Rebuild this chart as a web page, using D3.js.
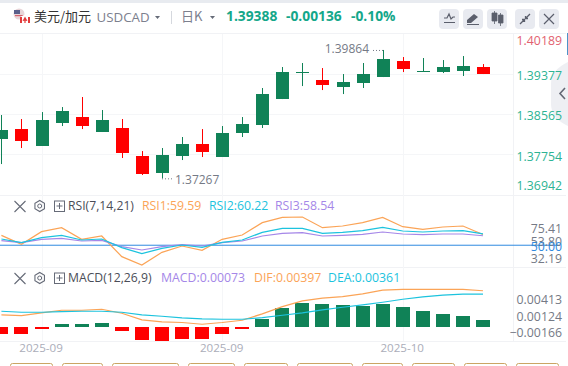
<!DOCTYPE html>
<html>
<head>
<meta charset="utf-8">
<script src="https://cdnjs.cloudflare.com/ajax/libs/d3/7.8.5/d3.min.js"></script>
<style>
html, body { margin: 0; padding: 0; background: #fff; overflow: hidden; }
text { font-family: "Open Sans", "Noto Sans CJK SC", sans-serif; }
</style>
</head>
<body>
<div id="chart"></div>
<script>
// candle values
var opens = [1.38062, 1.38264, 1.37921, 1.38386, 1.38507, 1.38204, 1.38285, 1.37718, 1.37374, 1.37718, 1.37961, 1.37698, 1.38183, 1.38345, 1.38871, 1.39404, 1.39256, 1.39114, 1.39195, 1.39316, 1.39640, 1.39424, 1.39417, 1.39438, 1.39524];
var highs = [1.38548, 1.38467, 1.38608, 1.38709, 1.38912, 1.38649, 1.38467, 1.37819, 1.37880, 1.38103, 1.38264, 1.38325, 1.38507, 1.39094, 1.39519, 1.39600, 1.39498, 1.39377, 1.39600, 1.39864, 1.39721, 1.39701, 1.39660, 1.39741, 1.39579];
var lows = [1.37556, 1.37880, 1.37921, 1.38325, 1.38264, 1.38204, 1.37678, 1.37334, 1.37267, 1.37637, 1.37698, 1.37698, 1.38103, 1.38285, 1.38871, 1.39134, 1.39053, 1.38972, 1.39094, 1.39316, 1.39417, 1.39424, 1.39397, 1.39337, 1.39377];
var closes = [1.38244, 1.38022, 1.38446, 1.38629, 1.38325, 1.38446, 1.37779, 1.37354, 1.37738, 1.37961, 1.37799, 1.38183, 1.38366, 1.38972, 1.39417, 1.39417, 1.39154, 1.39215, 1.39377, 1.39680, 1.39478, 1.39438, 1.39519, 1.39539, 1.39388];

var rsi1 = [58.9, 50.8, 62.2, 65.8, 55.3, 58.3, 39.7, 32.19, 43.6, 49.3, 45.4, 55.3, 59.2, 70.3, 75.1, 75.41, 65.8, 67.3, 70.3, 75.1, 66.7, 64.3, 66.4, 67.3, 59.59];
var rsi2 = [55.6, 52.3, 56.8, 58.9, 54.7, 55.6, 47.8, 42.4, 47.2, 50.2, 48.1, 52.6, 54.7, 61.6, 65.2, 65.2, 60.7, 61.6, 63.1, 66.1, 62.8, 61.9, 62.8, 63.1, 60.22];
var rsi3 = [54.1, 52.3, 55.3, 56.2, 53.8, 54.4, 48.7, 45.7, 48.7, 50.5, 49.3, 52.3, 53.8, 58.3, 60.7, 61.3, 58.3, 58.9, 59.8, 61.9, 60.1, 59.5, 60.1, 60.1, 58.54];

var macdHist = [-0.00077, -0.00077, -0.00022, 0.00033, 0.00033, 0.00044, -0.00044, -0.00146, -0.00154, -0.00132, -0.00132, -0.00077, -0.00022, 0.00088, 0.00209, 0.00264, 0.00253, 0.00242, 0.00231, 0.00253, 0.0022, 0.00176, 0.00143, 0.00121, 0.00073];
var dif = [0.00132, 0.00124, 0.00154, 0.00183, 0.00183, 0.00194, 0.0015, 0.00077, 0.00055, 0.00048, 0.00029, 0.00048, 0.00073, 0.00143, 0.00223, 0.00285, 0.00315, 0.00333, 0.00362, 0.00403, 0.00413, 0.00413, 0.00413, 0.00413, 0.00397];
var dea = [0.00172, 0.00161, 0.00161, 0.00168, 0.00172, 0.00172, 0.00161, 0.00132, 0.00117, 0.00099, 0.00088, 0.00084, 0.00084, 0.00102, 0.00128, 0.00154, 0.00187, 0.00216, 0.00242, 0.00271, 0.00304, 0.00329, 0.00348, 0.00359, 0.00361];

var priceTicks = [1.40189, 1.39377, 1.38565, 1.37754, 1.36942];
var rsiTicks = [75.41, 53.80, 50.00, 32.19];
var macdTicks = [0.00413, 0.00124, -0.00166];
var dateIndex = [2, 11, 20];
var dateLabels = ["2025-09", "2025-09", "2025-10"];

var green = "#108257", red = "#ff0000", orange = "#fba457", cyan = "#1cc3de", purple = "#a587e8";
var teal = "#2db393", grey = "#757a86", gridColor = "#f5f6f8";

var width = 568, height = 366;
var svg = d3.select("#chart").append("svg")
    .attr("width", width)
    .attr("height", height)
    .style("display", "block");

var x = d3.scalePoint().domain(d3.range(opens.length)).range([1.4, 483]);
var y = d3.scaleLinear().domain([1.36942, 1.40189]).range([194.4, 33.9]);
var yRsi = d3.scaleLinear().domain([32.19, 75.41]).range([265, 217]);
var yMacd = d3.scaleLinear().domain([-0.00166, 0.00413]).range([342, 289.3]);

// page strip on top and panel separators
svg.append("rect").attr("width", width).attr("height", 3).attr("fill", "#e8ebf0");
svg.append("rect").attr("x", 567).attr("y", 33).attr("width", 1).attr("height", 22).attr("fill", "#4d93c9");

svg.selectAll(".sep").data([33.5, 195.5, 267.5, 341.5]).enter().append("line")
    .attr("x1", 0).attr("x2", 566).attr("y1", function (d) { return d; }).attr("y2", function (d) { return d; })
    .attr("stroke", "#f1f2f5");
svg.append("line").attr("x1", 513.5).attr("x2", 513.5).attr("y1", 33).attr("y2", 341).attr("stroke", "#f1f2f5");

svg.selectAll(".gridv").data(dateIndex).enter().append("line")
    .attr("x1", function (d) { return Math.round(x(d)) + 0.5; })
    .attr("x2", function (d) { return Math.round(x(d)) + 0.5; })
    .attr("y1", 34).attr("y2", 341)
    .attr("stroke", gridColor);
svg.selectAll(".gridh").data(priceTicks.slice(1, 4)).enter().append("line")
    .attr("x1", 0).attr("x2", 513)
    .attr("y1", function (d) { return Math.round(y(d)) + 0.5; })
    .attr("y2", function (d) { return Math.round(y(d)) + 0.5; })
    .attr("stroke", gridColor);

// collapse handle on the right
svg.append("path")
    .attr("d", "M568,62 Q551,70 551,84 L551,104 Q551,118 568,126 Z")
    .attr("fill", "#eeeff3");
svg.append("path")
    .attr("d", "M565,88 L560,93.5 L565,99")
    .attr("fill", "none").attr("stroke", "#636874").attr("stroke-width", 1.6);

// candles
var candles = svg.append("g").selectAll("g").data(opens).enter().append("g");
candles.append("line")
    .attr("x1", function (d, i) { return Math.round(x(i)) + 0.5; })
    .attr("x2", function (d, i) { return Math.round(x(i)) + 0.5; })
    .attr("y1", function (d, i) { return y(highs[i]); })
    .attr("y2", function (d, i) { return y(lows[i]); })
    .attr("stroke", function (d, i) { return closes[i] >= d ? green : red; });
candles.append("rect")
    .attr("x", function (d, i) { return Math.round(x(i)) - 6; })
    .attr("width", 13)
    .attr("y", function (d, i) { return Math.round(y(Math.max(d, closes[i]))); })
    .attr("height", function (d, i) { return Math.max(1, Math.round(Math.abs(y(d) - y(closes[i])))); })
    .attr("fill", function (d, i) { return closes[i] >= d ? green : red; });

// high and low notes
function note(i, value, side) {
    var px = Math.round(x(i)), py = y(value);
    var t = svg.append("text").attr("y", py + (side > 0 ? 6 : 3.5))
        .attr("font-size", 12).attr("fill", grey).text(value.toFixed(5));
    if (side > 0) {
        t.attr("x", px + 13);
    } else {
        t.attr("x", px - 14).attr("text-anchor", "end");
    }
    svg.append("line")
        .attr("x1", px).attr("x2", px + side * 10)
        .attr("y1", py + 0.5).attr("y2", py + 0.5)
        .attr("stroke", grey).attr("stroke-dasharray", "1,2");
}
note(8, d3.min(lows), 1);
note(19, d3.max(highs), -1);

// RSI
svg.append("line")
    .attr("x1", 0).attr("x2", 560)
    .attr("y1", yRsi(50)).attr("y2", yRsi(50))
    .attr("stroke", "#2f8ae0");

function drawLine(values, scale, color) {
    var line = d3.line()
        .x(function (d, i) { return x(i); })
        .y(function (d) { return scale(d); });
    svg.append("path")
        .attr("d", line(values))
        .attr("fill", "none")
        .attr("stroke", color)
        .attr("stroke-width", 1.2);
}
drawLine(rsi1, yRsi, orange);
drawLine(rsi3, yRsi, purple);
drawLine(rsi2, yRsi, cyan);

// MACD
svg.append("g").selectAll("rect").data(macdHist).enter().append("rect")
    .attr("x", function (d, i) { return Math.round(x(i)) - 7; })
    .attr("width", 14)
    .attr("y", function (d) { return Math.round(Math.min(yMacd(d), yMacd(0))); })
    .attr("height", function (d) { return Math.round(Math.abs(yMacd(d) - yMacd(0))); })
    .attr("fill", function (d) { return d >= 0 ? green : red; });
drawLine(dif, yMacd, orange);
drawLine(dea, yMacd, cyan);

// axes: labels stay inside their panel
function valueAxis(scale, ticks, fmt, top, bottom, shift, colorOf) {
    var g = svg.append("g")
        .attr("transform", "translate(562,0)")
        .call(d3.axisRight(scale).tickValues(ticks).tickSize(0).tickFormat(fmt));
    g.select(".domain").remove();
    g.selectAll(".tick")
        .attr("transform", function (d) {
            return "translate(0," + Math.max(top, Math.min(bottom, scale(d) + shift)) + ")";
        });
    g.selectAll("text")
        .attr("x", 0).attr("dy", "0.35em")
        .attr("text-anchor", "end")
        .style("font-size", "12.3px")
        .style("font-family", '"Open Sans", sans-serif')
        .attr("fill", colorOf);
}
valueAxis(y, priceTicks, d3.format(".5f"), 41, 185.5, 2, function (d) { return d > 1.4 ? "#e2616f" : teal; });
valueAxis(yRsi, rsiTicks, d3.format(".2f"), 228.6, 258.7, 1, function (d) { return d === 50 ? "#2f8ae0" : grey; });
valueAxis(yMacd, macdTicks, d3.format(".5f"), 300, 332.7, 1, function () { return grey; });

var xAxis = svg.append("g")
    .attr("transform", "translate(-1,342)")
    .call(d3.axisBottom(x).tickValues(dateIndex).tickSize(0).tickFormat(function (d, i) { return dateLabels[i]; }));
xAxis.select(".domain").remove();
xAxis.selectAll("text")
    .attr("y", 2).attr("dy", "0.71em")
    .style("font-size", "11.6px")
    .style("font-family", '"Open Sans", sans-serif')
    .attr("fill", "#abadb9");

// header
function label(px, py, txt, size, color, weight) {
    return svg.append("text").attr("x", px).attr("y", py)
        .attr("font-size", size).attr("fill", color)
        .attr("font-weight", weight || "normal").text(txt);
}
var flag = svg.append("g");
flag.append("circle").attr("cx", 19).attr("cy", 14).attr("r", 5.5).attr("fill", "#e8d5d8");
flag.append("rect").attr("x", 14).attr("y", 10).attr("width", 6).attr("height", 4).attr("fill", "#5a5f8a");
flag.append("rect").attr("x", 15).attr("y", 15).attr("width", 9).attr("height", 1.2).attr("fill", "#d4606c");
flag.append("circle").attr("cx", 25).attr("cy", 20).attr("r", 5).attr("fill", "#fff");
flag.append("rect").attr("x", 21).attr("y", 16.5).attr("width", 9).attr("height", 7).attr("fill", "#fff");
flag.append("rect").attr("x", 20).attr("y", 17).attr("width", 2).attr("height", 6).attr("fill", "#e23b3b");
flag.append("rect").attr("x", 28).attr("y", 17).attr("width", 2).attr("height", 6).attr("fill", "#e23b3b");
flag.append("path").attr("d", "M25,16.5 L27.5,21 L25.6,20.8 L25.6,23 L24.4,23 L24.4,20.8 L22.5,21 Z").attr("fill", "#e23b3b");

label(34, 21, "美元/加元", 13, "#333333").style("font-family", '"Noto Sans CJK SC", sans-serif');
label(96.5, 22, "USDCAD", 13.3, "#7c808e");
svg.append("path").attr("d", "M155,16 L160,16 L157.5,19 Z").attr("fill", "#666b78");
svg.append("line").attr("x1", 171.5).attr("x2", 171.5).attr("y1", 11).attr("y2", 24).attr("stroke", "#d5d8de");
label(181, 21, "日K", 13, "#7c808e").style("font-family", '"Noto Sans CJK SC", sans-serif');
svg.append("path").attr("d", "M210,16 L215,16 L212.5,19 Z").attr("fill", "#666b78");
label(226, 21, "1.39388", 13.8, "#14a78a", "bold");
label(286, 21, "-0.00136", 13.8, "#14a78a", "bold");
label(351, 21, "-0.10%", 13.8, "#14a78a", "bold");

// toolbar buttons
var buttons = [439, 463, 487, 515, 539];
svg.selectAll(".btn").data(buttons).enter().append("rect")
    .attr("x", function (d) { return d; })
    .attr("y", 9).attr("width", 20).attr("height", 20).attr("rx", 4)
    .attr("fill", "#e8eaf0");
var ink = "#5b5f6c";
svg.append("path").attr("d", "M444,18 L447,18 L449,14 L451,19 L453,17 L455,17 M444,22.5 L455,22.5")
    .attr("fill", "none").attr("stroke", ink).attr("stroke-width", 1.2);
svg.append("path").attr("d", "M467,23 L467,20 L474,14 L478,17 L471,23 Z M467,24 L479,24 L479,25 L467,25 Z").attr("fill", ink);
svg.append("path").attr("d", "M492,13 L497,13 L497,21 L492,21 Z M498.5,15 L503,15 L503,23 L498.5,23 Z M494.5,11 V24 M500.5,13 V26")
    .attr("fill", ink).attr("stroke", ink).attr("stroke-width", 0.8);
svg.append("path").attr("d", "M520,24 L524,20 M526,18 L530,14 M522,19.5 L524.5,19.5 L524.5,22 M525.5,16 L525.5,18.5 L528,18.5")
    .attr("fill", "none").attr("stroke", ink).attr("stroke-width", 1.3);
svg.append("path").attr("d", "M544,14 L554,24 M554,14 L544,24")
    .attr("fill", "none").attr("stroke", ink).attr("stroke-width", 1.2);

// indicator headers
function paneHead(py) {
    svg.append("path").attr("d", "M14.5," + (py - 5) + " L25.5," + (py + 6) + " M25.5," + (py - 5) + " L14.5," + (py + 6))
        .attr("stroke", "#666b78").attr("stroke-width", 1.1);
    var r = 5.5, hex = d3.range(6).map(function (k) {
        var a = Math.PI / 3 * k + Math.PI / 6;
        return [39.7 + r * Math.cos(a), py + r * Math.sin(a)];
    });
    svg.append("path").attr("d", "M" + hex.join("L") + "Z")
        .attr("fill", "none").attr("stroke", "#666b78").attr("stroke-width", 1.1);
    svg.append("circle").attr("cx", 39.7).attr("cy", py).attr("r", 2)
        .attr("fill", "none").attr("stroke", "#666b78");
    svg.append("rect").attr("x", 54.5).attr("y", py - 5).attr("width", 10).attr("height", 10.5)
        .attr("fill", "none").attr("stroke", "#666b78");
    svg.append("path").attr("d", "M56.5," + py + " H62.5 M59.5," + (py - 3) + " V" + (py + 3))
        .attr("stroke", "#666b78");
}
paneHead(206);
paneHead(278);
label(68, 210, "RSI(7,14,21)", 12.2, "#4a4d57");
label(142, 210, "RSI1:59.59", 12.3, orange);
label(209, 210, "RSI2:60.22", 12.3, cyan);
label(275, 210, "RSI3:58.54", 12.3, purple);
label(68, 282, "MACD(12,26,9)", 12.2, "#4a4d57");
label(161, 282, "MACD:0.00073", 12.3, purple);
label(254, 282, "DIF:0.00397", 12.3, orange);
label(328, 282, "DEA:0.00361", 12.3, cyan);

// cut off tabs at the bottom
var tabs = [[10, 52], [62, 102], [112, 178], [188, 234], [244, 287], [297, 352], [362, 402], [412, 454], [464, 506], [516, 558]];
svg.selectAll(".tab").data(tabs).enter().append("rect")
    .attr("x", function (d) { return d[0] + 0.5; })
    .attr("y", 363.5)
    .attr("width", function (d) { return d[1] - d[0]; })
    .attr("height", 10).attr("rx", 2)
    .attr("fill", "#fff").attr("stroke", "#cba564");
</script>
</body>
</html>
